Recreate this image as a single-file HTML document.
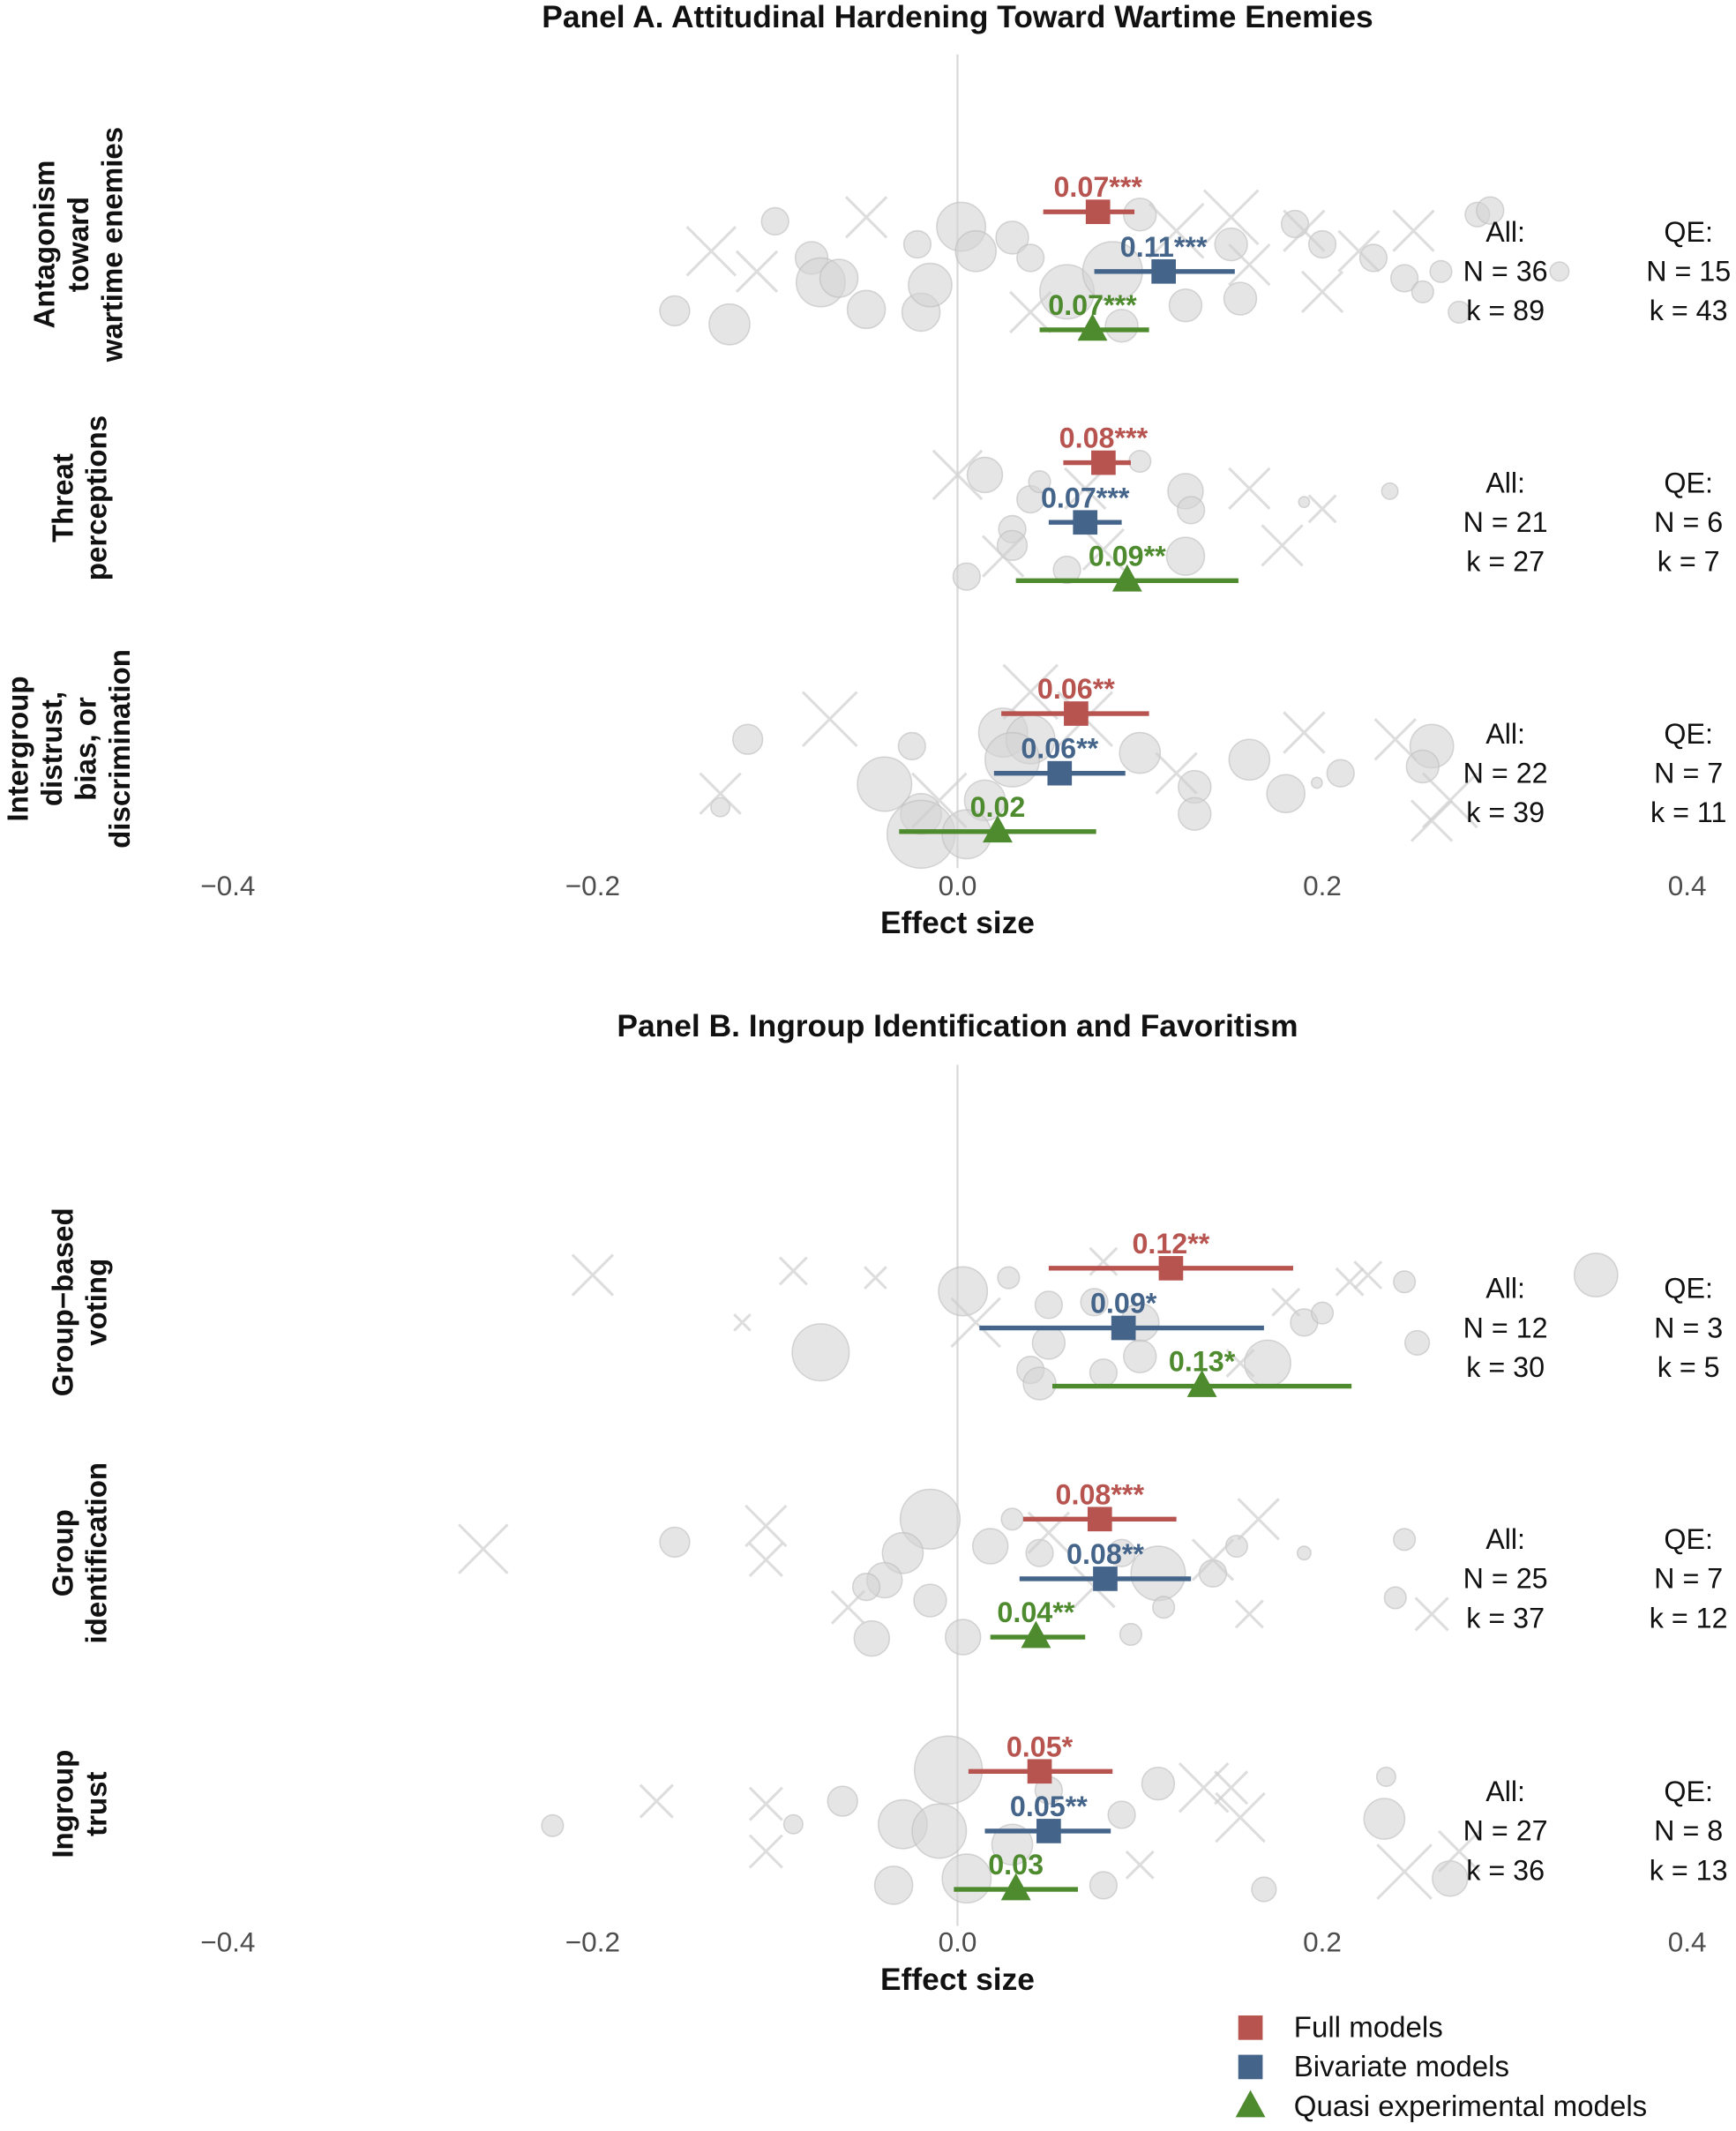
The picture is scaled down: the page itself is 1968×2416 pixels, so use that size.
<!DOCTYPE html>
<html><head><meta charset="utf-8"><style>
html,body{margin:0;padding:0;background:#fff;}
svg{display:block;font-family:"Liberation Sans",Arial,sans-serif;}
</style></head><body>
<svg id="chart" width="1968" height="2416" viewBox="0 0 1280 1571" xmlns="http://www.w3.org/2000/svg">
<g id="bg"></g><g id="fg"></g>
</svg>
<script>
const NS="http://www.w3.org/2000/svg";
const tickValues=[-0.4,-0.2,0.0,0.2,0.4];
const tickLabels=["\u22120.4","\u22120.2","0.0","0.2","0.4"];
const panelTitles=["Panel A. Attitudinal Hardening Toward Wartime Enemies","Panel B. Ingroup Identification and Favoritism"];
const rowLabels=[["Antagonism","toward","wartime enemies"],["Threat","perceptions"],["Intergroup","distrust,","bias, or","discrimination"],["Group\u2212based","voting"],["Group","identification"],["Ingroup","trust"]];
const fullEst=[0.077,0.08,0.065,0.117,0.078,0.045];
const fullLo=[0.047,0.058,0.024,0.05,0.036,0.006];
const fullHi=[0.097,0.095,0.105,0.184,0.12,0.085];
const fullLab=["0.07***","0.08***","0.06**","0.12**","0.08***","0.05*"];
const bivEst=[0.113,0.07,0.056,0.091,0.081,0.05];
const bivLo=[0.075,0.05,0.02,0.012,0.034,0.015];
const bivHi=[0.152,0.09,0.092,0.168,0.128,0.084];
const bivLab=["0.11***","0.07***","0.06**","0.09*","0.08**","0.05**"];
const qeEst=[0.074,0.093,0.022,0.134,0.043,0.032];
const qeLo=[0.045,0.032,-0.032,0.052,0.018,-0.002];
const qeHi=[0.105,0.154,0.076,0.216,0.07,0.066];
const qeLab=["0.07***","0.09**","0.02","0.13*","0.04**","0.03"];
const allN=[36,21,22,12,25,27];
const allK=[89,27,39,30,37,36];
const qeN=[15,6,7,3,7,8];
const qeK=[43,7,11,5,12,13];
const circles=[[-0.1,163,10],[-0.08,190,12],[-0.075,208,18],[-0.065,205,14],[-0.155,229,11],[-0.125,239,15],[-0.05,228,14],[-0.02,230,14],[0.002,167,18],[-0.022,180,10],[0.03,175,12],[0.01,185,15],[0.04,190,10],[0.06,215,20],[0.085,200,22],[0.1,158,12],[0.125,225,12],[0.15,180,12],[0.155,220,12],[0.185,165,10],[0.2,180,10],[0.228,190,10],[0.245,205,10],[0.255,215,8],[0.265,200,8],[0.275,230,8],[0.285,158,9],[0.292,155,10],[0.33,200,7],[0.09,240,12],[-0.015,210,16],
[0.015,350,13],[0.03,390,10],[0.04,368,10],[0.03,402,11],[0.005,425,10],[0.045,355,8],[0.1,340,8],[0.125,362,13],[0.128,376,10],[0.125,410,14],[0.19,370,4],[0.237,362,6],[0.06,420,10],
[-0.115,545,11],[-0.13,595,7],[-0.04,578,20],[-0.02,600,15],[-0.02,615,25],[0.025,540,18],[0.04,545,18],[0.03,560,20],[0.015,590,15],[0.1,555,15],[0.13,580,12],[0.16,560,15],[0.18,585,14],[0.26,550,16],[0.255,565,12],[0.21,570,10],[0.13,600,12],[0.197,577,4],[-0.025,550,10],[0.005,615,18],
[-0.075,997,21],[0.003,952,18],[0.028,942,8],[0.05,962,10],[0.05,990,12],[0.075,960,10],[0.1,975,14],[0.1,1000,12],[0.17,1005,17],[0.19,975,10],[0.2,968,8],[0.245,945,8],[0.252,990,9],[0.35,940,16],[0.04,1010,10],[0.045,1020,12],[0.08,1012,10],
[-0.155,1137,11],[-0.015,1120,22],[-0.03,1145,15],[-0.04,1165,13],[-0.05,1170,10],[-0.015,1180,12],[-0.047,1208,13],[0.003,1207,13],[0.03,1120,8],[0.018,1140,13],[0.045,1145,10],[0.09,1145,10],[0.11,1160,20],[0.113,1185,8],[0.14,1160,10],[0.153,1140,8],[0.095,1205,8],[0.245,1135,8],[0.24,1178,8],[0.19,1145,5],
[-0.222,1346,8],[-0.063,1328,11],[-0.09,1345,7],[-0.005,1305,25],[-0.03,1345,18],[-0.01,1350,20],[0.03,1360,15],[0.09,1338,10],[0.11,1315,12],[0.235,1310,7],[0.234,1341,15],[0.27,1385,13],[0.168,1393,9],[0.08,1390,10],[-0.035,1390,14],[0.005,1385,18],[0.05,1320,10]];
const crosses=[[-0.135,185,18],[-0.11,200,15],[-0.05,160,15],[0.12,170,20],[0.15,160,20],[0.16,195,15],[0.19,170,15],[0.22,185,15],[0.25,170,15],[0.04,230,15],[0.2,215,15],
[0.0,350,18],[0.025,410,15],[0.07,360,15],[0.16,360,15],[0.178,402,15],[0.2,375,10],[0.08,405,15],
[-0.07,530,20],[-0.13,585,15],[0.04,510,20],[0.07,530,20],[0.12,570,15],[0.19,540,15],[0.24,545,15],[0.27,590,20],[0.26,605,15],[-0.01,590,20],
[-0.2,940,15],[-0.09,937,10],[-0.045,942,8],[-0.118,975,6],[0.01,975,18],[0.08,930,10],[0.215,945,10],[0.225,940,10],[0.18,960,10],[0.155,1005,10],
[-0.26,1142,18],[-0.105,1125,15],[-0.105,1150,12],[0.05,1130,15],[0.075,1170,15],[0.14,1150,15],[0.165,1120,15],[0.16,1190,10],[0.26,1190,12],[-0.06,1185,12],
[-0.165,1328,12],[-0.105,1330,12],[-0.105,1365,12],[0.135,1318,18],[0.15,1318,12],[0.155,1340,18],[0.245,1380,20],[0.275,1365,15],[0.1,1375,10]];

const xs=v=>706+v*1345;
const rowY=[156,341,526,935,1120,1306];
const labelY=[180,367,552,960,1145,1330];
const RED="#b85450",BLUE="#45648a",GREEN="#4e8a2e";
const bg=document.getElementById('bg'),fg=document.getElementById('fg');
function el(p,tag,attrs,txt){const e=document.createElementNS(NS,tag);for(const k in attrs)e.setAttribute(k,attrs[k]);if(txt!==undefined)e.textContent=txt;p.appendChild(e);return e;}

[[40,640],[785,1420]].forEach(r=>{
 const l=el(bg,'line',{x1:xs(0),x2:xs(0),y1:r[0],y2:r[1],stroke:'#d9d9d9','stroke-width':1.5});
 
 
});
circles.forEach(c=>{
 const e=el(bg,'circle',{cx:xs(c[0]),cy:c[1],r:c[2],fill:'#d3d3d3','fill-opacity':0.6,stroke:'#bdbdbd','stroke-opacity':0.6});
 
 
});
crosses.forEach(c=>{
 const x=xs(c[0]),y=c[1],s=c[2];
 const e=el(bg,'path',{d:`M${x-s} ${y-s}L${x+s} ${y+s}M${x-s} ${y+s}L${x+s} ${y-s}`,stroke:'#cfcfcf','stroke-width':2,'stroke-opacity':0.7,fill:'none'});
 
 
});
[[12,0],[756,1]].forEach(t=>{
 const e=el(fg,'text',{x:706,y:t[0]+8,'text-anchor':'middle','font-size':23,'font-weight':'bold',fill:'#111'},panelTitles[t[1]]);
 
 
});
[660,1439].forEach(y=>{
 tickValues.forEach((v,i)=>{
  const e=el(fg,'text',{x:xs(v),y:y,'text-anchor':'middle','font-size':20.5,fill:'#4d4d4d'},tickLabels[i]);
  
  
 });
 const t=el(fg,'text',{x:706,y:y+28,'text-anchor':'middle','font-size':23,'font-weight':'bold',fill:'#111'},'Effect size');
 
 
});
function series(i,est,lo,hi,lab,col,dy,shape){
 const y=rowY[i]+dy;
 const l=el(fg,'line',{x1:xs(lo[i]),x2:xs(hi[i]),y1:y,y2:y,stroke:col,'stroke-width':3.5});
 
 
 const x=xs(est[i]);
 let m;
 if(shape==='sq'){m=el(fg,'rect',{x:x-9,y:y-9,width:18,height:18,fill:col});}
 else{m=el(fg,'polygon',{points:`${x},${y-12} ${x+11},${y+8} ${x-11},${y+8}`,fill:col});}
 
 
 const t=el(fg,'text',{x:x,y:y-11,'text-anchor':'middle','font-size':21,'font-weight':'bold',fill:col},lab[i]);
 
 
}
for(let i=0;i<6;i++){
 series(i,fullEst,fullLo,fullHi,fullLab,RED,0,'sq');
 series(i,bivEst,bivLo,bivHi,bivLab,BLUE,44,'sq');
 series(i,qeEst,qeLo,qeHi,qeLab,GREEN,87,'tri');
 const y0=rowY[i]+22;
 [['All:','N = '+allN[i],'k = '+allK[i],1110],['QE:','N = '+qeN[i],'k = '+qeK[i],1245]].forEach(g=>{
  for(let j=0;j<3;j++){
   const t=el(fg,'text',{x:g[3],y:y0+j*29,'text-anchor':'middle','font-size':21,fill:'#111'},g[j]);
   
   
  }
 });
 const lines=rowLabels[i],n=lines.length,cy=labelY[i];
 const g=el(fg,'text',{transform:`translate(${(n===4?50:n===3?57:58)},${cy}) rotate(-90)`,'text-anchor':'middle','font-size':21.5,'font-weight':'bold',fill:'#111'});
 
 
 lines.forEach((s,j)=>{el(g,'tspan',{x:0,y:(j-(n-1)/2)*25+8},s);});
}
const legend=[["Full models",RED,'sq'],["Bivariate models",BLUE,'sq'],["Quasi experimental models",GREEN,'tri']];
legend.forEach((l,i)=>{
 const y=1495+i*29,x=922;
 let m;
 if(l[2]==='sq')m=el(fg,'rect',{x:x-9,y:y-9,width:18,height:18,fill:l[1]});
 else m=el(fg,'polygon',{points:`${x},${y-12} ${x+11},${y+8} ${x-11},${y+8}`,fill:l[1]});
 
 
 const t=el(fg,'text',{x:954,y:y+7,'font-size':21.5,fill:'#111'},l[0]);
 
 
});
</script>
</body></html>
